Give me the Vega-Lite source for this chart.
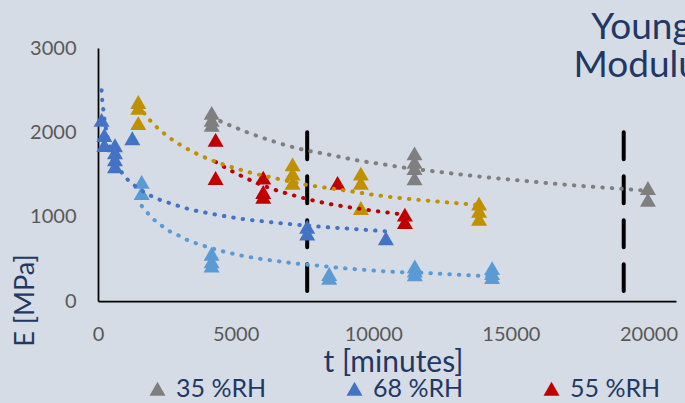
{
  "$schema": "https://vega.github.io/schema/vega-lite/v6.json",
  "width": 578,
  "height": 253,
  "autosize": {"type": "none"},
  "padding": {"left": 98, "top": 48, "right": 9, "bottom": 102},
  "background": "#D6DCE5",
  "config": {"view": {"stroke": null}, "font": "Lato"},
  "title": {
    "text": ["Young's", "Modulus"],
    "anchor": "end",
    "align": "right",
    "frame": "group",
    "baseline": "alphabetic",
    "fontSize": 37,
    "font": "Lato",
    "fontWeight": "normal",
    "color": "#1F3864",
    "lineHeight": 37.5,
    "offset": 0,
    "dx": 39,
    "dy": 75.5
  },
  "datasets": {
    "guides": [
      {"t": 7600, "E": 2000, "E2": 120},
      {"t": 19100, "E": 2000, "E2": 120}
    ],
    "points": [
      {"series": "35 %RH", "t": 4130, "E": 2230},
      {"series": "35 %RH", "t": 4130, "E": 2147},
      {"series": "35 %RH", "t": 4130, "E": 2088},
      {"series": "35 %RH", "t": 11500, "E": 1750},
      {"series": "35 %RH", "t": 11500, "E": 1650},
      {"series": "35 %RH", "t": 11500, "E": 1575},
      {"series": "35 %RH", "t": 11500, "E": 1455},
      {"series": "35 %RH", "t": 19980, "E": 1340},
      {"series": "35 %RH", "t": 19980, "E": 1200},
      {"series": "68 %RH", "t": 130, "E": 2147},
      {"series": "68 %RH", "t": 230, "E": 1969},
      {"series": "68 %RH", "t": 230, "E": 1850},
      {"series": "68 %RH", "t": 617, "E": 1847},
      {"series": "68 %RH", "t": 617, "E": 1764},
      {"series": "68 %RH", "t": 617, "E": 1681},
      {"series": "68 %RH", "t": 617, "E": 1598},
      {"series": "68 %RH", "t": 1247, "E": 1930},
      {"series": "68 %RH", "t": 7600, "E": 880},
      {"series": "68 %RH", "t": 7600, "E": 800},
      {"series": "68 %RH", "t": 10460, "E": 744},
      {"series": "55 %RH", "t": 4273, "E": 1910},
      {"series": "55 %RH", "t": 4273, "E": 1459},
      {"series": "55 %RH", "t": 6003, "E": 1463},
      {"series": "55 %RH", "t": 6003, "E": 1293},
      {"series": "55 %RH", "t": 6003, "E": 1234},
      {"series": "55 %RH", "t": 8704, "E": 1400},
      {"series": "55 %RH", "t": 11150, "E": 1025},
      {"series": "55 %RH", "t": 11150, "E": 935},
      {"series": "Series 4", "t": 1464, "E": 2360},
      {"series": "Series 4", "t": 1464, "E": 2290},
      {"series": "Series 4", "t": 1464, "E": 2110},
      {"series": "Series 4", "t": 7070, "E": 1620},
      {"series": "Series 4", "t": 7070, "E": 1510},
      {"series": "Series 4", "t": 7070, "E": 1400},
      {"series": "Series 4", "t": 9550, "E": 1510},
      {"series": "Series 4", "t": 9550, "E": 1400},
      {"series": "Series 4", "t": 9550, "E": 1103},
      {"series": "Series 4", "t": 13845, "E": 1154},
      {"series": "Series 4", "t": 13845, "E": 1068},
      {"series": "Series 4", "t": 13845, "E": 973},
      {"series": "Series 5", "t": 1587, "E": 1412},
      {"series": "Series 5", "t": 1587, "E": 1281},
      {"series": "Series 5", "t": 4128, "E": 560},
      {"series": "Series 5", "t": 4128, "E": 470},
      {"series": "Series 5", "t": 4128, "E": 420},
      {"series": "Series 5", "t": 8400, "E": 320},
      {"series": "Series 5", "t": 8400, "E": 275},
      {"series": "Series 5", "t": 11510, "E": 410},
      {"series": "Series 5", "t": 11510, "E": 360},
      {"series": "Series 5", "t": 11510, "E": 315},
      {"series": "Series 5", "t": 14318, "E": 390},
      {"series": "Series 5", "t": 14318, "E": 330},
      {"series": "Series 5", "t": 14318, "E": 285}
    ],
    "trend": [
      {"series": "35 %RH", "t": 4130, "E": 2180},
      {"series": "35 %RH", "t": 4430, "E": 2135},
      {"series": "35 %RH", "t": 5385, "E": 2005},
      {"series": "35 %RH", "t": 6380, "E": 1892},
      {"series": "35 %RH", "t": 7382, "E": 1800},
      {"series": "35 %RH", "t": 8399, "E": 1735},
      {"series": "35 %RH", "t": 9416, "E": 1668},
      {"series": "35 %RH", "t": 10447, "E": 1616},
      {"series": "35 %RH", "t": 11136, "E": 1581},
      {"series": "35 %RH", "t": 12516, "E": 1526},
      {"series": "35 %RH", "t": 13555, "E": 1486},
      {"series": "35 %RH", "t": 14597, "E": 1451},
      {"series": "35 %RH", "t": 15625, "E": 1420},
      {"series": "35 %RH", "t": 16667, "E": 1388},
      {"series": "35 %RH", "t": 17694, "E": 1361},
      {"series": "35 %RH", "t": 18736, "E": 1337},
      {"series": "35 %RH", "t": 19779, "E": 1313},
      {"series": "35 %RH", "t": 19980, "E": 1309},
      {"series": "68 %RH", "t": 130, "E": 2500},
      {"series": "68 %RH", "t": 156, "E": 2376},
      {"series": "68 %RH", "t": 192, "E": 2266},
      {"series": "68 %RH", "t": 450, "E": 1810},
      {"series": "68 %RH", "t": 882, "E": 1515},
      {"series": "68 %RH", "t": 1115, "E": 1427},
      {"series": "68 %RH", "t": 1380, "E": 1356},
      {"series": "68 %RH", "t": 1670, "E": 1293},
      {"series": "68 %RH", "t": 1986, "E": 1237},
      {"series": "68 %RH", "t": 2298, "E": 1194},
      {"series": "68 %RH", "t": 2625, "E": 1159},
      {"series": "68 %RH", "t": 3293, "E": 1091},
      {"series": "68 %RH", "t": 3969, "E": 1044},
      {"series": "68 %RH", "t": 4648, "E": 1004},
      {"series": "68 %RH", "t": 5327, "E": 969},
      {"series": "68 %RH", "t": 6002, "E": 945},
      {"series": "68 %RH", "t": 6692, "E": 921},
      {"series": "68 %RH", "t": 8061, "E": 881},
      {"series": "68 %RH", "t": 9103, "E": 858},
      {"series": "68 %RH", "t": 10120, "E": 834},
      {"series": "68 %RH", "t": 10460, "E": 826},
      {"series": "55 %RH", "t": 4273, "E": 1650},
      {"series": "55 %RH", "t": 4550, "E": 1597},
      {"series": "55 %RH", "t": 5167, "E": 1490},
      {"series": "55 %RH", "t": 5799, "E": 1396},
      {"series": "55 %RH", "t": 6438, "E": 1317},
      {"series": "55 %RH", "t": 7092, "E": 1254},
      {"series": "55 %RH", "t": 7745, "E": 1198},
      {"series": "55 %RH", "t": 8414, "E": 1151},
      {"series": "55 %RH", "t": 9067, "E": 1115},
      {"series": "55 %RH", "t": 9742, "E": 1082},
      {"series": "55 %RH", "t": 10421, "E": 1053},
      {"series": "55 %RH", "t": 11150, "E": 1024},
      {"series": "Series 4", "t": 1464, "E": 2320},
      {"series": "Series 4", "t": 1899, "E": 2139},
      {"series": "Series 4", "t": 2407, "E": 1985},
      {"series": "Series 4", "t": 2977, "E": 1854},
      {"series": "Series 4", "t": 3584, "E": 1747},
      {"series": "Series 4", "t": 4223, "E": 1657},
      {"series": "Series 4", "t": 4877, "E": 1586},
      {"series": "Series 4", "t": 5545, "E": 1522},
      {"series": "Series 4", "t": 6220, "E": 1471},
      {"series": "Series 4", "t": 7578, "E": 1378},
      {"series": "Series 4", "t": 8933, "E": 1313},
      {"series": "Series 4", "t": 10312, "E": 1246},
      {"series": "Series 4", "t": 11692, "E": 1198},
      {"series": "Series 4", "t": 13072, "E": 1159},
      {"series": "Series 4", "t": 13845, "E": 1138},
      {"series": "Series 5", "t": 1587, "E": 1128},
      {"series": "Series 5", "t": 1790, "E": 1048},
      {"series": "Series 5", "t": 2033, "E": 965},
      {"series": "Series 5", "t": 2313, "E": 894},
      {"series": "Series 5", "t": 2589, "E": 830},
      {"series": "Series 5", "t": 2916, "E": 779},
      {"series": "Series 5", "t": 3221, "E": 727},
      {"series": "Series 5", "t": 3533, "E": 688},
      {"series": "Series 5", "t": 3860, "E": 652},
      {"series": "Series 5", "t": 4539, "E": 589},
      {"series": "Series 5", "t": 5203, "E": 540},
      {"series": "Series 5", "t": 5893, "E": 500},
      {"series": "Series 5", "t": 6583, "E": 470},
      {"series": "Series 5", "t": 7262, "E": 441},
      {"series": "Series 5", "t": 7952, "E": 421},
      {"series": "Series 5", "t": 8642, "E": 397},
      {"series": "Series 5", "t": 9332, "E": 378},
      {"series": "Series 5", "t": 10022, "E": 361},
      {"series": "Series 5", "t": 10712, "E": 346},
      {"series": "Series 5", "t": 12092, "E": 330},
      {"series": "Series 5", "t": 12782, "E": 318},
      {"series": "Series 5", "t": 13471, "E": 306},
      {"series": "Series 5", "t": 14318, "E": 292}
    ]
  },
  "encoding": {
    "x": {
      "field": "t",
      "type": "quantitative",
      "scale": {"domain": [0, 21000], "nice": false, "zero": false},
      "axis": {
        "values": [0, 5000, 10000, 15000, 20000],
        "format": "d",
        "grid": false,
        "ticks": false,
        "tickSize": 0,
        "domainColor": "#000000",
        "domainWidth": 1.75,
        "labelFontSize": 20,
        "labelColor": "#595959",
        "labelPadding": 39,
        "labelBaseline": "alphabetic",
        "labelFlush": false,
        "title": "t [minutes]",
        "titleFontSize": 30,
        "titleColor": "#1F3864",
        "titleFontWeight": "normal",
        "titleX": 295,
        "titleY": 70,
        "titleAlign": "center",
        "titleBaseline": "alphabetic"
      }
    },
    "y": {
      "field": "E",
      "type": "quantitative",
      "scale": {"domain": [0, 3000], "nice": false},
      "axis": {
        "values": [0, 1000, 2000, 3000],
        "format": "d",
        "grid": false,
        "ticks": false,
        "tickSize": 0,
        "domainColor": "#000000",
        "domainWidth": 1.75,
        "labelFontSize": 20,
        "labelColor": "#595959",
        "labelPadding": 22,
        "title": "E [MPa]",
        "titleFontSize": 27,
        "titleColor": "#1F3864",
        "titleFontWeight": "normal",
        "titleAngle": -90,
        "titleX": -73,
        "titleY": 252,
        "titleAlign": "center",
        "titleBaseline": "middle"
      }
    }
  },
  "layer": [
    {
      "data": {"name": "guides"},
      "mark": {"type": "rule", "color": "#000000", "strokeWidth": 4, "strokeDash": [27, 17], "strokeCap": "round"},
      "encoding": {"y2": {"field": "E2"}}
    },
    {
      "data": {"name": "points"},
      "mark": {"type": "point", "shape": "triangle-up", "filled": true, "size": 256, "opacity": 1},
      "encoding": {
        "color": {
          "field": "series",
          "type": "nominal",
          "scale": {
            "domain": ["35 %RH", "68 %RH", "55 %RH", "Series 4", "Series 5"],
            "range": ["#7F7F7F", "#4472C4", "#C00000", "#BF9000", "#5B9BD5"]
          },
          "legend": {
            "values": ["35 %RH", "68 %RH", "55 %RH"],
            "orient": "none",
            "legendX": 47,
            "legendY": 328,
            "direction": "horizontal",
            "columns": 3,
            "gridAlign": "all",
            "title": null,
            "padding": 0,
            "symbolType": "triangle-up",
            "symbolSize": 256,
            "symbolStrokeWidth": 0,
            "symbolOpacity": 1,
            "labelFontSize": 25,
            "labelFont": "Lato",
            "labelColor": "#1F3864",
            "labelOffset": 6,
            "columnPadding": 75
          }
        }
      }
    },
    {
      "data": {"name": "trend"},
      "mark": {"type": "line", "strokeWidth": 4, "strokeDash": [0.5, 9], "strokeCap": "round", "interpolate": "monotone"},
      "encoding": {
        "color": {"field": "series", "type": "nominal"}
      }
    }
  ]
}
